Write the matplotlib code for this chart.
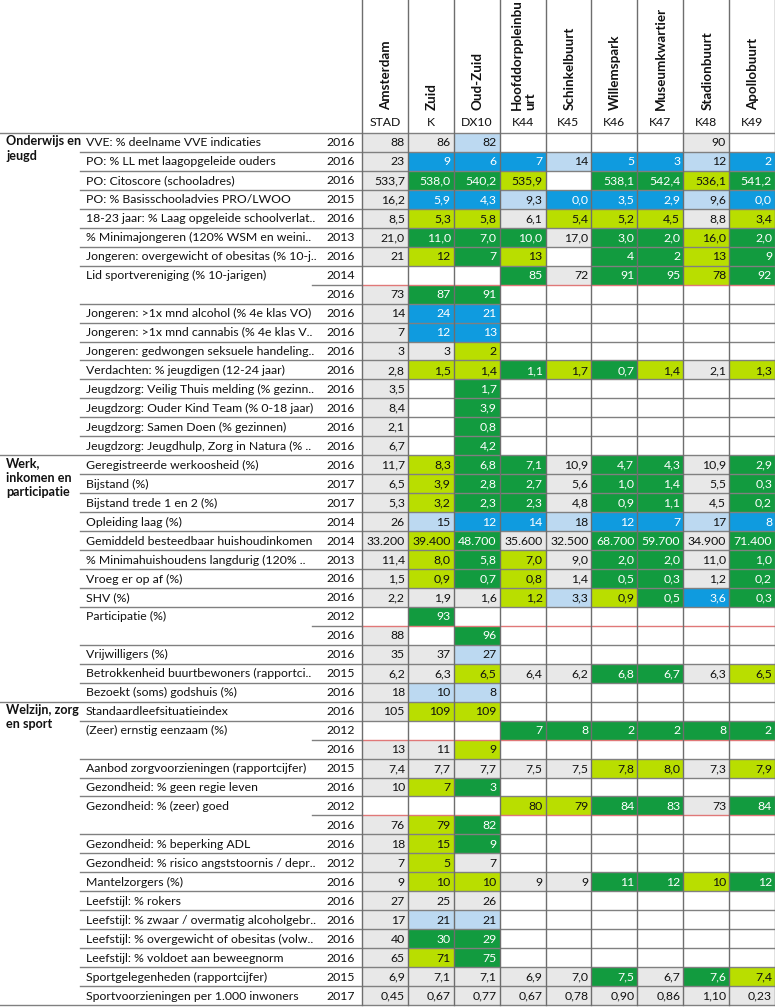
import matplotlib
matplotlib.use("Agg")
import matplotlib.pyplot as plt
from matplotlib.patches import Rectangle

plt.rcParams['font.family'] = ['Lato', 'DejaVu Sans']

# ---------------- data ----------------
areas = ["Amsterdam", "Zuid", "Oud-Zuid", "Hoofddorppleinbu\nurt", "Schinkelbuurt",
         "Willemspark", "Museumkwartier", "Stadionbuurt", "Apollobuurt"]
codes = ["STAD", "K", "DX10", "K44", "K45", "K46", "K47", "K48", "K49"]

sections = ["Onderwijs en\njeugd", "Werk,\ninkomen en\nparticipatie", "Welzijn, zorg\nen sport"]
section_start = [0, 17, 30]

indicators = [
    "VVE: % deelname VVE indicaties",
    "PO: % LL met laagopgeleide ouders",
    "PO: Citoscore (schooladres)",
    "PO: % Basisschooladvies PRO/LWOO",
    "18-23 jaar: % Laag opgeleide schoolverlat..",
    "% Minimajongeren (120% WSM en weini..",
    "Jongeren: overgewicht of obesitas (% 10-j..",
    "Lid sportvereniging (% 10-jarigen)",
    "",
    "Jongeren: >1x mnd alcohol (% 4e klas VO)",
    "Jongeren: >1x mnd cannabis (% 4e klas V..",
    "Jongeren: gedwongen seksuele handeling..",
    "Verdachten: % jeugdigen (12-24 jaar)",
    "Jeugdzorg: Veilig Thuis melding (% gezinn..",
    "Jeugdzorg: Ouder Kind Team (% 0-18 jaar)",
    "Jeugdzorg: Samen Doen (% gezinnen)",
    "Jeugdzorg: Jeugdhulp, Zorg in Natura (% ..",
    "Geregistreerde werkoosheid (%)",
    "Bijstand (%)",
    "Bijstand trede 1 en 2 (%)",
    "Opleiding laag (%)",
    "Gemiddeld besteedbaar huishoudinkomen",
    "% Minimahuishoudens langdurig (120% ..",
    "Vroeg er op af (%)",
    "SHV (%)",
    "Participatie (%)",
    "",
    "Vrijwilligers (%)",
    "Betrokkenheid buurtbewoners (rapportci..",
    "Bezoekt (soms) godshuis (%)",
    "Standaardleefsituatieindex",
    "(Zeer) ernstig eenzaam (%)",
    "",
    "Aanbod zorgvoorzieningen (rapportcijfer)",
    "Gezondheid: % geen regie leven",
    "Gezondheid: % (zeer) goed",
    "",
    "Gezondheid: % beperking ADL",
    "Gezondheid: % risico angststoornis / depr..",
    "Mantelzorgers (%)",
    "Leefstijl: % rokers",
    "Leefstijl: % zwaar / overmatig alcoholgebr..",
    "Leefstijl: % overgewicht of obesitas (volw..",
    "Leefstijl: % voldoet aan beweegnorm",
    "Sportgelegenheden (rapportcijfer)",
    "Sportvoorzieningen per 1.000 inwoners",
]

years = [2016, 2016, 2016, 2015, 2016, 2013, 2016, 2014, 2016, 2016, 2016, 2016,
         2016, 2016, 2016, 2016, 2016, 2016, 2017, 2017, 2014, 2014, 2013, 2016,
         2016, 2012, 2016, 2016, 2015, 2016, 2016, 2012, 2016, 2015, 2016, 2012,
         2016, 2016, 2012, 2016, 2016, 2016, 2016, 2016, 2015, 2017]

values = [
    "88|86|82|||||90|",
    "23|9|6|7|14|5|3|12|2",
    "533,7|538,0|540,2|535,9||538,1|542,4|536,1|541,2",
    "16,2|5,9|4,3|9,3|0,0|3,5|2,9|9,6|0,0",
    "8,5|5,3|5,8|6,1|5,4|5,2|4,5|8,8|3,4",
    "21,0|11,0|7,0|10,0|17,0|3,0|2,0|16,0|2,0",
    "21|12|7|13||4|2|13|9",
    "|||85|72|91|95|78|92",
    "73|87|91||||||",
    "14|24|21||||||",
    "7|12|13||||||",
    "3|3|2||||||",
    "2,8|1,5|1,4|1,1|1,7|0,7|1,4|2,1|1,3",
    "3,5||1,7||||||",
    "8,4||3,9||||||",
    "2,1||0,8||||||",
    "6,7||4,2||||||",
    "11,7|8,3|6,8|7,1|10,9|4,7|4,3|10,9|2,9",
    "6,5|3,9|2,8|2,7|5,6|1,0|1,4|5,5|0,3",
    "5,3|3,2|2,3|2,3|4,8|0,9|1,1|4,5|0,2",
    "26|15|12|14|18|12|7|17|8",
    "33.200|39.400|48.700|35.600|32.500|68.700|59.700|34.900|71.400",
    "11,4|8,0|5,8|7,0|9,0|2,0|2,0|11,0|1,0",
    "1,5|0,9|0,7|0,8|1,4|0,5|0,3|1,2|0,2",
    "2,2|1,9|1,6|1,2|3,3|0,9|0,5|3,6|0,3",
    "|93|||||||",
    "88||96||||||",
    "35|37|27||||||",
    "6,2|6,3|6,5|6,4|6,2|6,8|6,7|6,3|6,5",
    "18|10|8||||||",
    "105|109|109||||||",
    "|||7|8|2|2|8|2",
    "13|11|9||||||",
    "7,4|7,7|7,7|7,5|7,5|7,8|8,0|7,3|7,9",
    "10|7|3||||||",
    "|||80|79|84|83|73|84",
    "76|79|82||||||",
    "18|15|9||||||",
    "7|5|7||||||",
    "9|10|10|9|9|11|12|10|12",
    "27|25|26||||||",
    "17|21|21||||||",
    "40|30|29||||||",
    "65|71|75||||||",
    "6,9|7,1|7,1|6,9|7,0|7,5|6,7|7,6|7,4",
    "0,45|0,67|0,77|0,67|0,78|0,90|0,86|1,10|0,23",
]

# colour class per cell: g grey, lb light blue, b blue, dg dark green, l lime, - none
classes = [
    "g g lb - - - - g -",
    "g b b b lb b b lb b",
    "g dg dg l - dg dg l dg",
    "g b b lb b b b lb b",
    "g l l g l l l g l",
    "g dg dg dg g dg dg l dg",
    "g l dg l - dg dg l dg",
    "- - - dg g dg dg l dg",
    "g dg dg - - - - - -",
    "g b b - - - - - -",
    "g b b - - - - - -",
    "g g l - - - - - -",
    "g l l dg l dg l g l",
    "g - dg - - - - - -",
    "g - dg - - - - - -",
    "g - dg - - - - - -",
    "g - dg - - - - - -",
    "g l dg dg g dg dg g dg",
    "g l dg dg g dg dg g dg",
    "g l dg dg g dg dg g dg",
    "g lb b b lb b b lb b",
    "g l dg g g dg dg g dg",
    "g l dg l g dg dg g dg",
    "g l dg l g dg dg g dg",
    "g g g l lb l dg b dg",
    "- dg - - - - - - -",
    "g - dg - - - - - -",
    "g g lb - - - - - -",
    "g g l g g dg dg g l",
    "g lb lb - - - - - -",
    "g l l - - - - - -",
    "- - - dg dg dg dg dg dg",
    "g g l - - - - - -",
    "g g g g g l l g l",
    "g l dg - - - - - -",
    "- - - l l dg dg g dg",
    "g l dg - - - - - -",
    "g l dg - - - - - -",
    "g l g - - - - - -",
    "g l l g g dg dg l dg",
    "g g g - - - - - -",
    "g lb lb - - - - - -",
    "g dg dg - - - - - -",
    "g l dg - - - - - -",
    "g g g g g dg g dg l",
    "g g g g g g g g g",
]

# ---------------- style / layout ----------------
fills = {"g": "#e8e8e8", "lb": "#bcd9f1", "b": "#0f9bdf", "dg": "#129b3f", "l": "#b9de00"}
white_text = {"b", "dg"}
grid_col = "#808080"
red_col = "#e07878"

W, H = 775, 1007
top, bottom = 133, 1005
n_rows = len(indicators)
rh = (bottom - top) / n_rows
x_ind, x_year, x_data = 80, 312, 362
cw = (W - x_data) / len(areas)

fig = plt.figure(figsize=(W / 100, H / 100), dpi=100)
ax = fig.add_axes([0, 0, 1, 1])
ax.set_xlim(0, W)
ax.set_ylim(H, 0)
ax.axis("off")

fs = 8.8

# header
for j, (name, code) in enumerate(zip(areas, codes)):
    xc = x_data + (j + 0.5) * cw
    ax.text(xc + 1, 110, name, rotation=90, ha="center", va="bottom",
            multialignment="left", fontsize=9.6, fontweight="bold",
            color="#111111", linespacing=1.05)
    ax.text(xc, 122, code, ha="center", va="center", fontsize=fs, color="#111111")

# cells
for i in range(n_rows):
    y0 = top + i * rh
    yc = y0 + rh / 2
    vals = values[i].split("|")
    cls = classes[i].split()
    for j in range(len(areas)):
        x0 = x_data + j * cw
        if cls[j] != "-":
            ax.add_patch(Rectangle((x0, y0), cw, rh, facecolor=fills[cls[j]],
                                   edgecolor="none", zorder=1))
        if vals[j]:
            ax.text(x0 + cw - 3, yc + 0.5, vals[j], ha="right", va="center", fontsize=fs,
                    color="white" if cls[j] in white_text else "#111111", zorder=3)
    if indicators[i]:
        ax.text(x_ind + 6, yc + 0.5, indicators[i], ha="left", va="center",
                fontsize=fs, color="#111111")
    ax.text(x_data - 7, yc + 0.5, str(years[i]), ha="right", va="center",
            fontsize=fs, color="#111111")

for name, start in zip(sections, section_start):
    ax.text(6, top + start * rh + 2, name, ha="left", va="top", fontsize=fs + 0.3,
            fontweight="bold", color="#111111", linespacing=1.25)

# horizontal grid lines
for i in range(n_rows + 1):
    y = top + i * rh
    if i in section_start or i == n_rows:
        ax.plot([0, W], [y, y], color=grid_col, lw=1.0, zorder=2)
    elif indicators[i] == "":
        ax.plot([x_year, x_data], [y, y], color=grid_col, lw=1.0, zorder=2)
        ax.plot([x_data, W], [y, y], color=red_col, lw=1.0, zorder=2)
    else:
        ax.plot([x_ind, W], [y, y], color=grid_col, lw=1.0, zorder=2)

# vertical grid lines
for j in range(len(areas) + 1):
    x = x_data + j * cw
    if j == len(areas):
        x = W - 0.5
    ax.plot([x, x], [0, bottom], color="#6e6e6e", lw=1.0, zorder=2)

fig.savefig("out.png", dpi=100)
